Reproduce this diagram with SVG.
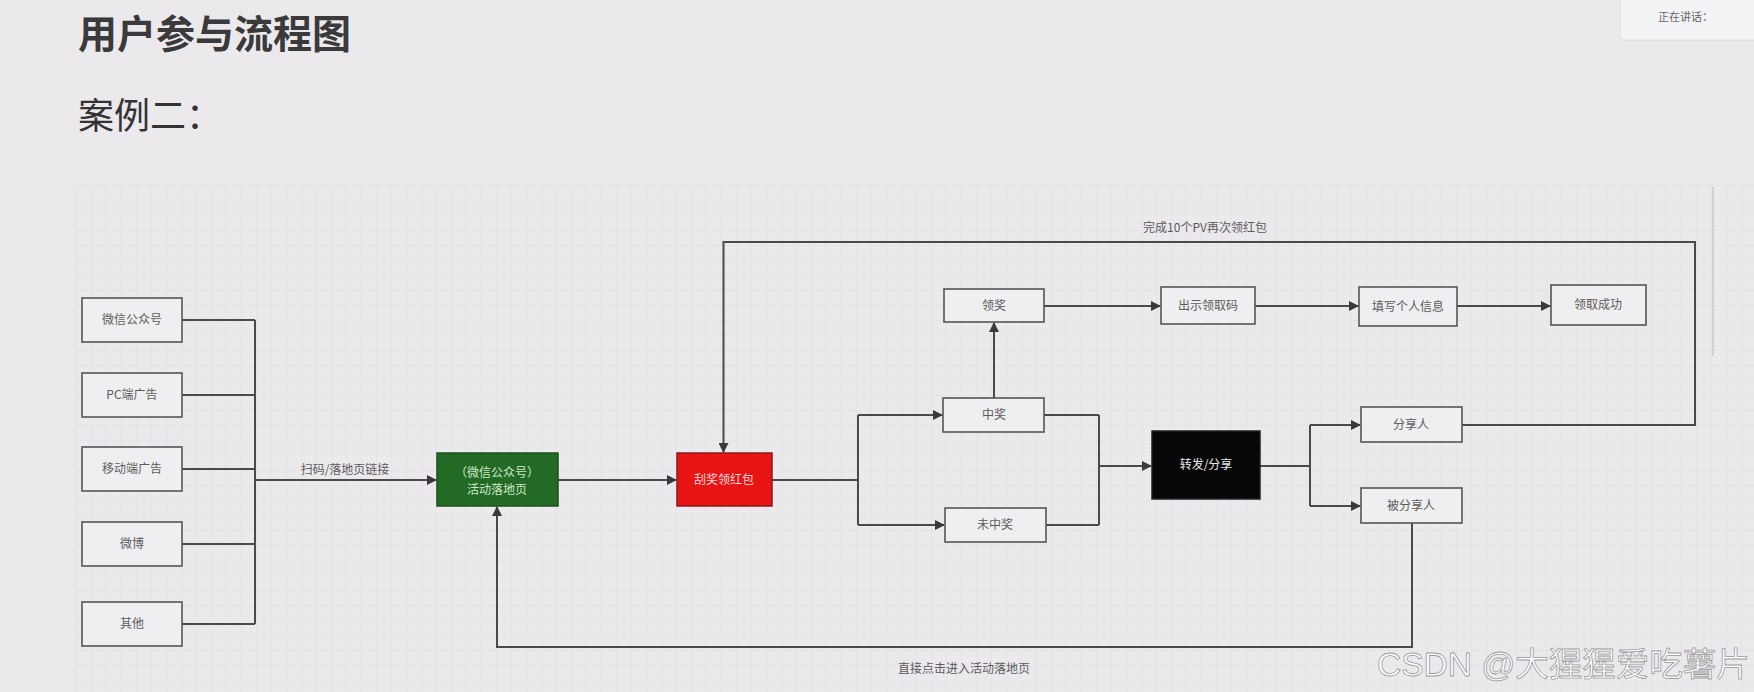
<svg xmlns="http://www.w3.org/2000/svg" width="1754" height="692" viewBox="0 0 1754 692">
<style>
text{font-family:"Noto Sans CJK SC","Noto Sans",sans-serif}
.box{fill:#efeef0;stroke:#555;stroke-width:1.6}
.lbl{font-size:12px;fill:#5c5c5c;text-anchor:middle}
.ln{fill:none;stroke:#4a4a4a;stroke-width:2}
.ar{fill:none;stroke:#4a4a4a;stroke-width:2;marker-end:url(#arr)}
</style>
<defs>
<marker id="arr" viewBox="0 0 10 10" refX="9" refY="5" markerWidth="5" markerHeight="5" orient="auto" markerUnits="strokeWidth">
<path d="M0,0 L10,5 L0,10 z" fill="#3a3a3a"/>
</marker>
<pattern id="grid" width="15" height="15" patternUnits="userSpaceOnUse" x="76" y="185">
<path d="M15,0 L0,0 0,15" fill="none" stroke="#dcdbdf" stroke-width="0.8"/>
</pattern>
</defs>
<rect width="1754" height="692" fill="#ebe9ec"/>
<rect x="76" y="185" width="1678" height="507" fill="url(#grid)" opacity="0.8"/>
<line x1="1713" y1="187" x2="1713" y2="356" stroke="#c8c7ca" stroke-width="1.5"/>

<g id="title">
<text x="78" y="48" font-size="39" font-weight="bold" fill="#3a3a3a">用户参与流程图</text>
<text x="78" y="129" font-size="36" fill="#333">案例二：</text>
</g>
<g id="speaking">
<rect x="1620" y="-6" width="140" height="46" rx="3" fill="#f3f2f4" stroke="#dddcdf"/>
<text x="1658" y="21" font-size="11" fill="#666">正在讲话：</text>
</g>

<g id="connectors">
<path class="ln" d="M182,320 H255 M182,395 H255 M182,469 H255 M182,544 H255 M182,624 H255 M255,320 V624"/>
<path class="ar" d="M255,480 H436"/>
<path class="ar" d="M558,480 H676"/>
<path class="ln" d="M772,480 H858 M858,415 V525"/>
<path class="ar" d="M858,415 H942"/>
<path class="ar" d="M858,525 H944"/>
<path class="ar" d="M994,398 V323"/>
<path class="ar" d="M1044,306 H1160"/>
<path class="ar" d="M1255,306 H1358"/>
<path class="ar" d="M1457,306 H1550"/>
<path class="ln" d="M1044,415 H1099 M1046,525 H1099 M1099,415 V525"/>
<path class="ar" d="M1099,466 H1151"/>
<path class="ln" d="M1260,466 H1310 M1310,425 V506"/>
<path class="ar" d="M1310,425 H1360"/>
<path class="ar" d="M1310,506 H1360"/>
<path class="ar" d="M1462,425 H1695 V242 H723.5 V452"/>
<path class="ar" d="M1412,523 V647 H497 V507"/>
<text x="345" y="474" class="lbl">扫码/落地页链接</text>
<text x="1205" y="232" class="lbl">完成10个PV再次领红包</text>
<text x="964" y="673" class="lbl">直接点击进入活动落地页</text>
</g>

<g id="n-wechat"><rect class="box" x="82" y="298" width="100" height="44"/><text class="lbl" x="132" y="324">微信公众号</text></g>
<g id="n-pc"><rect class="box" x="82" y="373" width="100" height="44"/><text class="lbl" x="132" y="399">PC端广告</text></g>
<g id="n-mobile"><rect class="box" x="82" y="447" width="100" height="44"/><text class="lbl" x="132" y="473">移动端广告</text></g>
<g id="n-weibo"><rect class="box" x="82" y="522" width="100" height="44"/><text class="lbl" x="132" y="548">微博</text></g>
<g id="n-other"><rect class="box" x="82" y="602" width="100" height="44"/><text class="lbl" x="132" y="628">其他</text></g>

<g id="n-landing"><rect x="437" y="453" width="121" height="53" fill="#236a25" stroke="#1c4f1d" stroke-width="1.5"/>
<text class="lbl" x="497" y="477" style="fill:#cfe8c8">（微信公众号）</text>
<text class="lbl" x="497" y="494" style="fill:#cfe8c8">活动落地页</text></g>
<g id="n-redpack"><rect x="677" y="453" width="95" height="53" fill="#e81414" stroke="#8a1a1a" stroke-width="1.5"/>
<text class="lbl" x="724" y="484" style="fill:#ffd6d6">刮奖领红包</text></g>

<g id="n-win"><rect class="box" x="943" y="398" width="101" height="34"/><text class="lbl" x="994" y="419">中奖</text></g>
<g id="n-lose"><rect class="box" x="945" y="508" width="101" height="34"/><text class="lbl" x="995" y="529">未中奖</text></g>
<g id="n-claim"><rect class="box" x="944" y="289" width="100" height="33"/><text class="lbl" x="994" y="310">领奖</text></g>
<g id="n-code"><rect class="box" x="1161" y="287" width="94" height="37"/><text class="lbl" x="1208" y="310">出示领取码</text></g>
<g id="n-info"><rect class="box" x="1359" y="287" width="98" height="39"/><text class="lbl" x="1408" y="311">填写个人信息</text></g>
<g id="n-done"><rect class="box" x="1551" y="285" width="95" height="40"/><text class="lbl" x="1598" y="309">领取成功</text></g>
<g id="n-share"><rect x="1152" y="431" width="108" height="68" fill="#070707" stroke="#222" stroke-width="1.5"/><text class="lbl" x="1206" y="469" style="fill:#e8e8e8">转发/分享</text></g>
<g id="n-sharer"><rect class="box" x="1361" y="407" width="101" height="35"/><text class="lbl" x="1411" y="429">分享人</text></g>
<g id="n-shared"><rect class="box" x="1361" y="488" width="101" height="35"/><text class="lbl" x="1411" y="510">被分享人</text></g>

<g id="watermark">
<text x="1377" y="676" font-size="33.5" fill="#ffffff" stroke="#9a9a9c" stroke-width="0.8" style="font-family:'Liberation Sans','Noto Sans CJK SC',sans-serif">CSDN @大猩猩爱吃薯片</text>
</g>
</svg>
